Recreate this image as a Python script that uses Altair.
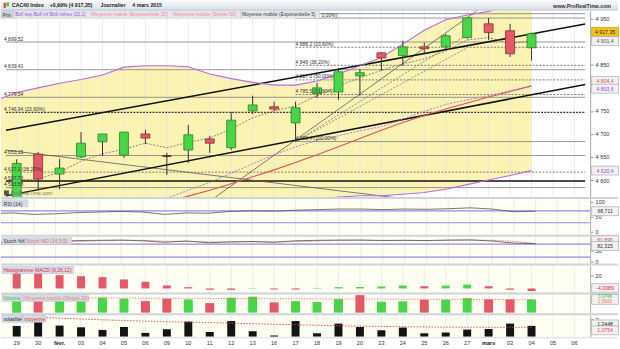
import altair as alt
import pandas as pd
import numpy as np

FONT = "Liberation Sans"
W = 592

# ---------------- data ----------------
dates = ["29", "30", "févr.", "03", "04", "05", "06", "09", "10", "11", "12", "13", "16",
         "17", "18", "19", "20", "23", "24", "25", "26", "27", "mars", "03", "04", "05", "06"]

opens = [4550, 4656, 4613, 4650, 4683, 4654, 4700, 4652, 4665, 4689, 4670, 4750, 4759,
         4724, 4787, 4791, 4826, 4876, 4870, 4889, 4889, 4909, 4939, 4924, 4887]
highs = [4645, 4661, 4646, 4704, 4700, 4704, 4709, 4659, 4720, 4696, 4748, 4783, 4770,
         4770, 4811, 4843, 4841, 4878, 4902, 4898, 4917, 4952, 4952, 4939, 4920]
lows = [4540, 4580, 4580, 4648, 4652, 4648, 4678, 4611, 4637, 4659, 4665, 4743, 4750,
        4683.4, 4778, 4774, 4783, 4837, 4848, 4874, 4883, 4907, 4904, 4867, 4859]
closes = [4636, 4602, 4626, 4680, 4700, 4704, 4691, 4652, 4698, 4680, 4730, 4763, 4754,
          4757, 4800, 4835, 4833, 4865, 4889, 4885, 4913, 4952, 4920, 4874, 4917.35]

# indicator series starting one session earlier (28 Jan) so they enter from the left edge
boll_sup = [4772, 4790, 4800, 4810, 4818, 4828, 4845, 4848, 4848, 4846, 4830, 4820, 4812,
            4806, 4806, 4815, 4830, 4848, 4866, 4895, 4925, 4948, 4958, 4966, 4978, 4987]
boll_mid = [4460, 4472, 4485, 4497, 4508, 4520, 4532, 4545, 4560, 4578, 4595, 4615, 4635,
            4655, 4672, 4686, 4696, 4707, 4716, 4732, 4749, 4764, 4774, 4783, 4794, 4803.6]
boll_inf = [4148, 4154, 4170, 4184, 4198, 4212, 4219, 4242, 4272, 4310, 4360, 4410, 4458,
            4504, 4538, 4557, 4563, 4566, 4566, 4569, 4573, 4580, 4590, 4600, 4610, 4620.4]
ema20 = [4500, 4505, 4510, 4516, 4522, 4528, 4535, 4542, 4553, 4565, 4578, 4592, 4607,
         4622, 4638, 4655, 4672, 4690, 4708, 4725, 4740, 4754, 4767, 4780, 4792, 4804.4]
rsi = [60, 63, 58, 60, 64, 66, 68, 66, 58, 63, 62, 68, 70, 69, 72, 74, 76, 76, 74, 76,
       75, 77, 80, 76, 67, 68.711]
stoch_k = [88, 90, 85, 92, 96, 97, 98, 95, 88, 94, 86, 90, 92, 88, 95, 97, 98, 98, 96, 97,
           96, 98, 99, 94, 84, 82.325]
stoch_d = [90, 92, 88, 90, 92, 95, 97, 97, 93, 92, 90, 89, 90, 90, 92, 94, 97, 98, 97, 97,
           96, 97, 98, 97, 92, 81.896]

ema5 = [4600, 4602, 4617, 4641, 4657, 4667, 4680, 4670, 4682, 4691, 4711, 4735, 4750,
        4761, 4783, 4804, 4822, 4838, 4852, 4863, 4880, 4904, 4909, 4897, 4901.4]
macd_hist = [24.5, 24.5, 20.8, 19.2, 17.7, 14.1, 10.5, 4.7, 2.0, -2.0, -2.2, 0.5, -1.5,
             -1.8, 0.8, 2.0, 2.2, 3.0, 4.5, 3.5, 4.5, 6.0, 3.5, -2.0, -4.0089]
volume = [3.67, 3.67, 3.67, 3.67, 4.48, 4.18, 3.46, 4.18, 3.97, 2.87, 4.48, 4.78, 3.07,
          3.46, 3.16, 4.06, 5.25, 3.28, 3.37, 3.88, 3.88, 4.36, 3.97, 3.97, 3.9746]
volume_ma = [4.45, 4.45, 4.42, 4.40, 4.38, 4.36, 4.33, 4.30, 4.28, 4.25, 4.22, 4.20, 4.18,
             4.15, 4.12, 4.10, 4.08, 4.05, 4.02, 4.00, 3.97, 3.95, 3.92, 3.90, 3.88]
volat = [1.23, 1.74, 1.28, 1.08, 0.77, 1.12, 0.42, 0.85, 1.74, 0.53, 1.81, 0.62, 0.12,
         1.81, 0.38, 1.51, 1.12, 0.73, 1.05, 0.38, 0.47, 0.81, 0.88, 1.51, 1.2448]
volat_avg = [2.35, 2.25, 2.15, 2.05, 1.95, 1.88, 1.80, 1.72, 1.68, 1.63, 1.56, 1.50, 1.43,
             1.37, 1.32, 1.27, 1.22, 1.18, 1.15, 1.12, 1.10, 1.09, 1.08, 1.08, 1.0754]

# horizontal levels
levels_solid = [4961, 4899.52, 4839.41, 4779.54, 4653.15, 4583.58]
levels_black = [4597.73]
levels_dash_dark = [4746.94]
levels_dash = [4617.1]
fib_start = 13
fib_solid = [4951.5, 4683.4]
fib_dash = [4888.2, 4849.0, 4817.3, 4785.5]
left_labels = ["4 899,52", "4 839,41", "4 779,54", "4 746,94 (23,60%)", "4 653,15",
               "4 617,1 (38,20%)", "4 597,73", "4 583,58"]
left_label_vals = [4899.52, 4839.41, 4779.54, 4746.94, 4653.15, 4617.1, 4597.73, 4583.58]
fib_labels = ["4 888,2 (23,60%)", "4 849 (38,20%)", "4 817,3 (50,00%)",
              "4 785,5 (61,80%)", "4 683,4 (100,00%)"]
fib_label_vals = [4888.2, 4849.0, 4817.3, 4785.5, 4683.4]
fib_top_label = "0,00%)"
fib_top_val = 4951.5

# trend lines (session index, price)
trend_x0 = [-0.5, -0.5, -0.5, 9.21]
trend_p0 = [4708.1, 4565.6, 4664.9, 4561.2]
trend_x1 = [26.5, 26.5, 18.65, 21.84]
trend_p1 = [4938.4, 4807.5, 4556.1, 4980.3]
fan_x1 = [20.93, 20.93]
fan_p1 = [4913.3, 4885.2]

# ---------------- frames ----------------
cdf = pd.DataFrame({"i": range(25), "open": opens, "high": highs, "low": lows, "close": closes})
cdf["dir"] = np.where(cdf.close > cdf.open, "up", np.where(cdf.close < cdf.open, "down", "flat"))
prevc = cdf.close.shift(1)
ldf = pd.DataFrame({"i": range(-1, 25), "sup": boll_sup, "mid": boll_mid, "inf": boll_inf,
                    "ema20": ema20, "rsi": rsi, "k": stoch_k, "d": stoch_d})
sdf = pd.DataFrame({"i": range(25), "ema5": ema5, "macd": macd_hist, "vol": volume,
                    "volma": volume_ma, "volat": volat, "vavg": volat_avg})
prevm = sdf.macd.shift(1)
sdf["mdir"] = np.where(prevm.notna() & (sdf.macd > prevm), "up", "down")
sdf["vdir"] = np.where(prevc.isna() | (cdf.close > prevc), "up", "down")
gdf = pd.DataFrame({"g": range(27)})
ddf = pd.DataFrame({"i": range(27), "lab": dates})
one = pd.DataFrame({"k": [0]})

xs = alt.Scale(domain=[-0.5, 26.5], nice=False, zero=False)


def X(f):
    return alt.X(f"{f}:Q", scale=xs, axis=None)


def make_axis(values, expr=None, labels=True):
    kw = dict(orient="right", values=values, labelFontSize=5.5, labelFont=FONT,
              labelColor="#333", tickSize=3, tickColor="#999", domainColor="#A8A8A8",
              labelPadding=2, grid=False, title="", labels=labels)
    if expr:
        kw["labelExpr"] = expr
    return alt.Axis(**kw)


def make_Y(domain, axis):
    sc = alt.Scale(domain=domain, nice=False, zero=False)

    def Y(f):
        return alt.Y(f"{f}:Q", scale=sc, axis=axis)
    return Y


def rect_px(x0, x1, y0, y1, fill, stroke=None, sw=0.5):
    kw = dict(fill=fill)
    if stroke:
        kw.update(stroke=stroke, strokeWidth=sw)
    return alt.Chart(one).mark_rect(**kw).encode(
        x=alt.value(x0), x2=alt.value(x1), y=alt.value(y0), y2=alt.value(y1))


def text_px(x, y, s, color="#222", size=5.3, weight="normal", align="left"):
    return alt.Chart(pd.DataFrame({"t": [s]})).mark_text(
        font=FONT, fontSize=size, fontWeight=weight, color=color, align=align,
        baseline="middle").encode(x=alt.value(x), y=alt.value(y), text="t:N")


def tag(x0, x1, y0, s, color, fill="#D6DCE4"):
    return [rect_px(x0, x1, y0, y0 + 7, fill, "#B9C1CC"), text_px(x0 + 1.5, y0 + 3.8, s, color, 5.1)]


BOX = "M-1,-0.33L1,-0.33L1,0.33L-1,0.33Z"


def vbox(label, value, Y, tcolor, fill="#F1F1F1", stroke="#A0A0A0", dy=0):
    d = pd.DataFrame({"v": [value], "t": [label]})
    pt = alt.Chart(d).mark_point(shape=BOX, size=729, filled=True, fill=fill, stroke=stroke,
                                 strokeWidth=0.6, opacity=1, yOffset=dy).encode(
        x=alt.value(607), y=Y("v"))
    tx = alt.Chart(d).mark_text(font=FONT, fontSize=5.2, color=tcolor, align="center",
                                baseline="middle", dy=dy).encode(
        x=alt.value(607), y=Y("v"), text="t:N")
    return [pt, tx]


def sep():
    return rect_px(0, 620, -2, 0, "#CDD4DD")


def grid():
    return alt.Chart(gdf).mark_rule(color="#E4E4E4", strokeWidth=0.7).encode(x=X("g"))


# ---------------- title bar ----------------
grad = alt.LinearGradient(gradient="linear", x1=0, x2=0, y1=0, y2=1,
                          stops=[alt.GradientStop(color="#F6F8FB", offset=0),
                                 alt.GradientStop(color="#DCE3EB", offset=1)])
title_layers = [
    alt.Chart(one).mark_rect(fill=grad).encode(x=alt.value(0), x2=alt.value(620),
                                               y=alt.value(0), y2=alt.value(8)),
    rect_px(2.5, 5, 2, 7, "#E04848"), rect_px(5.5, 8, 1.5, 5.5, "#3FBF3F"),
    text_px(11, 4.3, "CAC40 Index", "#222", 5.2, "bold"),
    text_px(49, 4.3, "+0,99% (4 917,35)", "#222", 5.2, "bold"),
    text_px(100, 4.3, "Journalier", "#222", 5.2, "bold"),
    text_px(132, 4.3, "4 mars 2015", "#222", 5.2, "bold"),
    text_px(613, 4.8, "www.ProRealTime.com", "#333", 5.3, "bold", "right"),
]
title_panel = alt.layer(*title_layers).properties(width=W, height=8)

# ---------------- main price panel ----------------
Ym = make_Y([4563.4, 4967.3],
            make_axis([4600, 4650, 4700, 4750, 4850, 4950],
                      "replace(format(datum.value, ','), ',', ' ')"))


def hlines(vals, x0, color, sw, dash=None):
    d = pd.DataFrame({"v": vals, "x0": x0, "x1": 26.5})
    kw = dict(color=color, strokeWidth=sw, clip=True)
    if dash:
        kw["strokeDash"] = dash
    return alt.Chart(d).mark_rule(**kw).encode(x=X("x0"), x2=alt.X2("x1:Q"), y=Ym("v"))


tdf = pd.DataFrame({"x0": trend_x0, "p0": trend_p0, "x1": trend_x1, "p1": trend_p1,
                    "kind": ["thick", "thick", "thin", "thin"]})
fdf = pd.DataFrame({"x0": fib_start, "p0": 4683.4, "x1": fan_x1, "p1": fan_p1})


def seg(d, color, sw, dash=None):
    kw = dict(color=color, strokeWidth=sw, clip=True)
    if dash:
        kw["strokeDash"] = dash
    return alt.Chart(d).mark_rule(**kw).encode(x=X("x0"), x2=alt.X2("x1:Q"),
                                               y=Ym("p0"), y2=alt.Y2("p1:Q"))


lab_left = pd.DataFrame({"v": left_label_vals, "t": left_labels})
lab_fib = pd.DataFrame({"v": fib_label_vals, "t": fib_labels, "x0": fib_start})
lab_top = pd.DataFrame({"v": [fib_top_val], "t": [fib_top_label]})

main_layers = [
    alt.Chart(ldf).mark_area(color="#FBF3B3", opacity=1, clip=True).encode(
        x=X("i"), y=Ym("sup"), y2=alt.Y2("inf:Q")),
    grid(),
    sep(),
    hlines(levels_solid, -0.5, "#7C7C7C", 0.8),
    hlines(levels_dash, -0.5, "#6E6E6E", 0.9, [2, 1.5]),
    hlines(levels_dash_dark, -0.5, "#3A3A3A", 1.4, [2, 1.2]),
    hlines(levels_black, -0.5, "#111111", 1.4),
    hlines(fib_solid, fib_start, "#7C7C7C", 0.8),
    hlines(fib_dash, fib_start, "#6E6E6E", 0.9, [2, 1.5]),
    seg(tdf[tdf.kind == "thin"], "#5A5A5A", 0.8),
    seg(fdf, "#777777", 0.8, [2, 1.5]),
    seg(tdf[tdf.kind == "thick"], "#111111", 1.5),
    alt.Chart(ldf).mark_line(color="#E0505E", strokeWidth=1.1, clip=True).encode(x=X("i"), y=Ym("ema20")),
    alt.Chart(ldf).mark_line(color="#A868E8", strokeWidth=0.9, strokeDash=[2, 1.5], clip=True).encode(x=X("i"), y=Ym("mid")),
    alt.Chart(ldf).mark_line(color="#B66BE6", strokeWidth=1.1, clip=True).encode(x=X("i"), y=Ym("sup")),
    alt.Chart(ldf).mark_line(color="#B66BE6", strokeWidth=1.1, clip=True).encode(x=X("i"), y=Ym("inf")),
    alt.Chart(sdf).mark_line(color="#666666", strokeWidth=0.8, strokeDash=[2, 1.5], clip=True).encode(x=X("i"), y=Ym("ema5")),
    alt.Chart(cdf).mark_rule(color="#333333", strokeWidth=1, clip=True).encode(
        x=X("i"), y=Ym("low"), y2=alt.Y2("high:Q")),
    alt.Chart(cdf).mark_bar(width=9, strokeWidth=0.8, clip=True, opacity=1).encode(
        x=X("i"), y=Ym("open"), y2=alt.Y2("close:Q"),
        color=alt.Color("dir:N", legend=None,
                        scale=alt.Scale(domain=["up", "down", "flat"],
                                        range=["#48D548", "#E25A68", "#222222"])),
        stroke=alt.Stroke("dir:N", legend=None,
                          scale=alt.Scale(domain=["up", "down", "flat"],
                                          range=["#2E7F2E", "#8E2A33", "#111111"]))),
    alt.Chart(lab_left).mark_text(font=FONT, fontSize=5, color="#333", align="left",
                                  baseline="bottom", dy=-0.5).encode(
        x=alt.value(3), y=Ym("v"), text="t:N"),
    alt.Chart(lab_fib).mark_text(font=FONT, fontSize=5, color="#333", align="left",
                                 baseline="bottom", dy=-0.5).encode(
        x=X("x0"), y=Ym("v"), text="t:N"),
    # legend strip
    rect_px(0, 13, 0, 7.5, "#CFD5DD", "#B5BCC6"),
    text_px(1.5, 4, "Prix", "#333", 5),
    rect_px(13, 90, 0, 7.5, "#E7E8EE", "#C3C7CF"),
    text_px(14.2, 4, "Boll sup Boll inf Boll milieu (20,2)", "#9A4BDB", 4.9),
    rect_px(90, 173, 0, 7.5, "#E7E8EE", "#C3C7CF"),
    text_px(91.2, 4, "Moyenne mobile (Exponentielle 20)", "#F0829A", 4.9),
    rect_px(173, 241, 0, 7.5, "#E7E8EE", "#C3C7CF"),
    text_px(174.2, 4, "Moyenne mobile (Simple 50)", "#F0829A", 4.9),
    rect_px(241, 320, 0, 7.5, "#E7E8EE", "#C3C7CF"),
    text_px(242.2, 4, "Moyenne mobile (Exponentielle 5)", "#333", 4.9),
    # fib 0% label, its start hidden behind the legend strip in the original
    alt.Chart(lab_top).mark_text(font=FONT, fontSize=5, color="#333", align="left",
                                 baseline="bottom", dy=-0.5).encode(
        x=alt.value(322), y=Ym("v"), text="t:N"),
    # watermark
    rect_px(3, 8, 180.5, 185.5, "#555555"),
    text_px(9.5, 183, "ProRealTime.com", "#777777", 5.3),
]
main_layers += vbox("4 917,35", closes[-1], Ym, "#222", fill="#F4C21A", stroke="#B8900C", dy=-2)
main_layers += vbox("4 901,4", ema5[-1], Ym, "#555")
main_layers += vbox("4 804,4", ema20[-1], Ym, "#E0505E", dy=-5)
main_layers += vbox("4 803,6", boll_mid[-1], Ym, "#9A4BDB", dy=2.5)
main_layers += vbox("4 620,4", boll_inf[-1], Ym, "#9A4BDB")
main_panel = alt.layer(*main_layers).properties(width=W, height=187)


def bg(h):
    return rect_px(0, W, 0, h, "#FEFEF3")


def levels(vals, Y, color="#8E8CE8"):
    d = pd.DataFrame({"v": vals})
    return alt.Chart(d).mark_rule(color=color, strokeWidth=1.2).encode(y=Y("v"))


# ---------------- RSI ----------------
Yr = make_Y([-10, 110], make_axis([0, 50, 100]))
rsi_layers = [bg(36), grid(), sep(), levels([70, 30], Yr),
              alt.Chart(ldf).mark_line(color="#555555", strokeWidth=0.8, clip=True).encode(x=X("i"), y=Yr("rsi"))]
rsi_layers += tag(1, 27, 1, "RSI (14)", "#333")
rsi_layers += vbox("68,711", rsi[-1], Yr, "#333")
rsi_panel = alt.layer(*rsi_layers).properties(width=W, height=36)

# ---------------- Stochastic ----------------
Ys = make_Y([-9.1, 113.6], make_axis([0, 50]))
st_layers = [bg(27), grid(), sep(), levels([80, 20], Ys),
             alt.Chart(ldf).mark_line(color="#E46A78", strokeWidth=0.9, strokeDash=[1.5, 1], clip=True).encode(x=X("i"), y=Ys("d")),
             alt.Chart(ldf).mark_line(color="#555555", strokeWidth=0.8, clip=True).encode(x=X("i"), y=Ys("k"))]
st_layers += tag(1, 24, 1, "Stoch %K", "#333")
st_layers += tag(24, 71, 1, "Stoch %D (14,3,5)", "#E86A7A")
st_layers += vbox("81,896", stoch_d[-1], Ys, "#E05060", dy=-3.5)
st_layers += vbox("82,325", stoch_k[-1], Ys, "#333", dy=2.5)
st_panel = alt.layer(*st_layers).properties(width=W, height=27)

# ---------------- MACD histogram ----------------
Yh = make_Y([-6.25, 35.9], make_axis([20]))
mh_layers = [bg(27), grid(), sep(),
             alt.Chart(sdf).mark_bar(width=8, opacity=1).encode(
                 x=X("i"), y=Yh("macd"), y2=alt.datum(0),
                 color=alt.Color("mdir:N", legend=None,
                                 scale=alt.Scale(domain=["up", "down"], range=["#45C845", "#E0244A"])))]
mh_layers += tag(1, 73, 1, "Histogramme MACD (9,26,12)", "#D81E48")
mh_layers += vbox("-4,0089", macd_hist[-1], Yh, "#E0244A", dy=-3)
mh_panel = alt.layer(*mh_layers).properties(width=W, height=27)

# ---------------- Volume ----------------
Yv = make_Y([-0.21, 5.46], make_axis([4.3], labels=False))
vdf_box = pd.DataFrame({"v": [volume[-1]]})
vo_layers = [bg(19), grid(), sep(),
             alt.Chart(sdf).mark_bar(width=9, opacity=1).encode(
                 x=X("i"), y=Yv("vol"), y2=alt.datum(0),
                 color=alt.Color("vdir:N", legend=None,
                                 scale=alt.Scale(domain=["up", "down"], range=["#4CD64C", "#E87474"]))),
             alt.Chart(sdf).mark_line(color="#E86A6A", strokeWidth=0.9, strokeDash=[1.2, 1.5], clip=True).encode(x=X("i"), y=Yv("volma")),
             alt.Chart(vdf_box).mark_point(shape="M-1,-0.37L1,-0.37L1,0.37L-1,0.37Z", size=729, filled=True,
                                           fill="#F1F1F1", stroke="#A0A0A0", strokeWidth=0.6, opacity=1).encode(
                 x=alt.value(607), y=Yv("v")),
             alt.Chart(pd.DataFrame({"v": [volume[-1]], "t": ["3,9746"]})).mark_text(
                 font=FONT, fontSize=4.6, color="#3CB84A", dy=-2.2).encode(x=alt.value(607), y=Yv("v"), text="t:N"),
             alt.Chart(pd.DataFrame({"v": [volume[-1]], "t": ["2,6606"]})).mark_text(
                 font=FONT, fontSize=4.6, color="#E88060", dy=2.4).encode(x=alt.value(607), y=Yv("v"), text="t:N")]
vo_layers += tag(1, 22, 0, "Volume", "#33B84A")
vo_layers += tag(22, 88, 0, "Moyenne mobile (Simple 20)", "#E88080")
vo_panel = alt.layer(*vo_layers).properties(width=W, height=19)

# ---------------- Volatility ----------------
Yt = make_Y([-0.08, 2.48], make_axis([2]))
ddf_m = ddf[ddf.lab.str.len() > 2]
ddf_n = ddf[ddf.lab.str.len() <= 2]
vt_layers = [bg(22), grid(), sep(),
             alt.Chart(sdf).mark_bar(width=8, opacity=1, color="#141414").encode(
                 x=X("i"), y=Yt("volat"), y2=alt.datum(0)),
             alt.Chart(sdf).mark_line(color="#E84040", strokeWidth=0.9, strokeDash=[1.5, 1.5], clip=True).encode(x=X("i"), y=Yt("vavg")),
             rect_px(0, 620, 22, 23, "#D5DBE3"),
             alt.Chart(ddf_n).mark_text(font=FONT, fontSize=5.6, color="#333").encode(
                 x=X("i"), y=alt.value(27.5), text="lab:N"),
             alt.Chart(ddf_m).mark_text(font=FONT, fontSize=5.6, color="#222", fontWeight="bold").encode(
                 x=X("i"), y=alt.value(27.5), text="lab:N")]
vt_layers += tag(1, 22, 0, "volatilité", "#222")
vt_layers += tag(22, 45, 0, "moyenne", "#E03030")
vt_layers += vbox("1,2448", volat[-1], Yt, "#222", dy=-1.5)
vt_layers += vbox("1,0754", volat_avg[-1], Yt, "#E84040", dy=3)
vt_panel = alt.layer(*vt_layers).properties(width=W, height=22)

chart = alt.vconcat(title_panel, main_panel, rsi_panel, st_panel, mh_panel, vo_panel, vt_panel,
                    spacing=2, bounds="flush").properties(
    padding=0, background="white").configure_view(strokeWidth=0)

chart.save("out.html", embed_options={"renderer": "svg", "actions": False})
